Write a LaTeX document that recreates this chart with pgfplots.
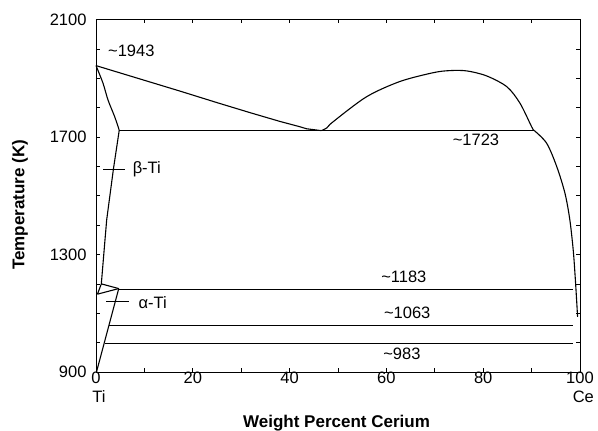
\documentclass[border=0pt]{standalone}
\usepackage{pgfplots}
\pgfplotsset{compat=1.18}
\usepackage{fontspec}
\setmainfont{Liberation Sans}
\newcommand\fs{\fontsize{16.5}{19}\selectfont}
\newcommand\fb{\fontsize{17}{20}\selectfont\bfseries}
\begin{document}
\begin{tikzpicture}
\path[use as bounding box] (0,0) rectangle (598pt,431pt);
\begin{axis}[
  at={(96pt,59pt)}, anchor=south west,
  scale only axis, width=484pt, height=352.5pt,
  xmin=0, xmax=100, ymin=900, ymax=2100,
  xtick={0,20,40,60,80,100},
  ytick={900,1300,1700,2100},
  minor xtick={10,30,50,70,90},
  minor ytick={1000,1100,1200,1400,1500,1600,1800,1900,2000},
  tick align=inside, tick pos=both, ticklabel pos=left,
  major tick length=4pt, minor tick length=4pt,
  axis line style={line width=0.9pt},
  every tick/.style={line width=0.7pt, black},
  /pgf/number format/assume math mode=true,
  /pgf/number format/1000 sep={},
  tick label style={font=\fs},
  xticklabel style={yshift=3.5pt},
  yticklabel style={xshift=-6pt},
  xlabel={Weight Percent Cerium},
  ylabel={Temperature (K)},
  every axis x label/.style={at={(axis description cs:0.497,-0.145)}, anchor=center, font=\fb},
  every axis y label/.style={at={(axis description cs:-0.157,0.474)}, rotate=90, anchor=center, font=\fb},
  clip=false,
]
% left liquidus
\addplot[black, line width=1.1pt] coordinates {
(0,1943) (8,1903) (17.4,1856) (25,1817) (31.8,1783) (38,1753) (42.1,1735) (43.5,1728) (46.4,1722)
};
% liquid miscibility dome
\addplot[black, line width=1.1pt, smooth, tension=0.5] coordinates {
(46.6,1722) (47.7,1731) (49.0,1752) (55.9,1837) (62.8,1889) (69.7,1919) (73.1,1926) (76.6,1925) (80.7,1908) (84.9,1871) (87.6,1815) (90.0,1735) (90.4,1724)
};
% Ce-side liquidus
\addplot[black, line width=1.1pt, smooth, tension=0.5] coordinates {
(90.4,1724) (93.1,1679) (95.2,1599) (96.9,1508) (97.9,1418) (98.6,1315) (99.0,1225) (99.3,1145) (99.5,1088)
};
% beta solvus (upper)
\addplot[black, line width=1.1pt, smooth, tension=0.5] coordinates {
(0,1943) (1.45,1883) (2.48,1826) (3.86,1769) (4.8,1723)
};
% beta solvus (lower)
\addplot[black, line width=1.1pt] coordinates {
(4.8,1723) (3.6,1591) (2.2,1417) (1.1,1200) (0.3,1165)
};
% two-phase triangle
\addplot[black, line width=1.1pt] coordinates {(1.1,1200) (4.7,1184)};
\addplot[black, line width=1.1pt] coordinates {(0.3,1165) (4.7,1184)};
% alpha solvus
\addplot[black, line width=1.1pt] coordinates {(4.7,1184) (0.1,900)};
% horizontals
\addplot[black, line width=1.1pt] coordinates {(4.8,1723) (90.4,1723)};
\addplot[black, line width=1.1pt] coordinates {(4.7,1180) (98.6,1180)};
\addplot[black, line width=1.1pt] coordinates {(2.7,1058) (98.6,1058)};
\addplot[black, line width=1.1pt] coordinates {(1.9,997) (98.6,997)};
% pointer lines
\addplot[black, line width=1pt] coordinates {(1.45,1591) (6.0,1591)};
\addplot[black, line width=1pt] coordinates {(2.07,1140) (6.9,1140)};
% annotations
\node[font=\fs] at (axis cs:7.3,1995) {\textasciitilde1943};
\node[font=\fs] at (axis cs:10.5,1590) {β-Ti};
\node[font=\fs] at (axis cs:11.7,1135) {α-Ti};
\node[font=\fs] at (axis cs:78.5,1690) {\textasciitilde1723};
\node[font=\fs] at (axis cs:63.6,1224) {\textasciitilde1183};
\node[font=\fs] at (axis cs:64.3,1101) {\textasciitilde1063};
\node[font=\fs] at (axis cs:63.2,961) {\textasciitilde983};
\node[font=\fs, anchor=center] at (axis description cs:0.006,-0.069) {Ti};
\node[font=\fs, anchor=east] at (axis description cs:1.036,-0.069) {Ce};
\end{axis}
\end{tikzpicture}
\end{document}
